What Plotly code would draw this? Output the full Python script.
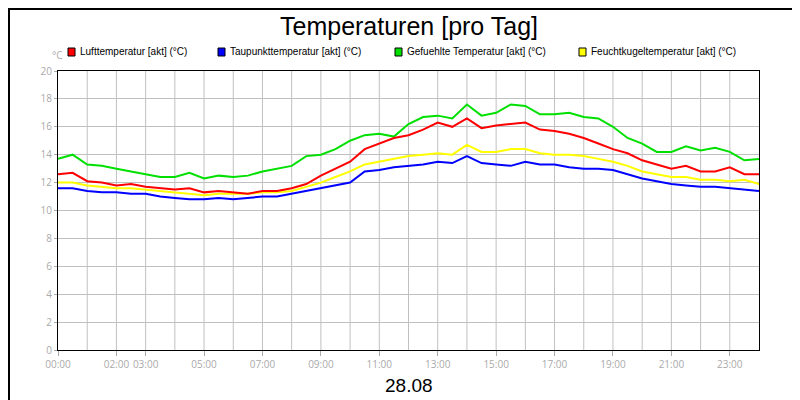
import plotly.graph_objects as go

hours = [i * 0.5 for i in range(49)]
luft = [12.6,12.7,12.1,12.0,11.8,11.9,11.7,11.6,11.5,11.6,11.3,11.4,11.3,11.2,11.4,11.4,11.6,11.9,12.5,13.0,13.5,14.4,14.8,15.2,15.4,15.8,16.3,16.0,16.6,15.9,16.1,16.2,16.3,15.8,15.7,15.5,15.2,14.8,14.4,14.1,13.6,13.3,13.0,13.2,12.8,12.8,13.1,12.6,12.6]
tau = [11.6,11.6,11.4,11.3,11.3,11.2,11.2,11.0,10.9,10.8,10.8,10.9,10.8,10.9,11.0,11.0,11.2,11.4,11.6,11.8,12.0,12.8,12.9,13.1,13.2,13.3,13.5,13.4,13.9,13.4,13.3,13.2,13.5,13.3,13.3,13.1,13.0,13.0,12.9,12.6,12.3,12.1,11.9,11.8,11.7,11.7,11.6,11.5,11.4]
gelb = [12.0,12.0,11.8,11.7,11.6,11.6,11.5,11.4,11.3,11.2,11.1,11.2,11.2,11.2,11.3,11.3,11.4,11.7,12.0,12.4,12.8,13.3,13.5,13.7,13.9,14.0,14.1,14.0,14.7,14.2,14.2,14.4,14.4,14.1,14.0,14.0,13.9,13.7,13.5,13.2,12.8,12.6,12.4,12.4,12.2,12.2,12.1,12.2,11.9]
gruen = [13.7,14.0,13.3,13.2,13.0,12.8,12.6,12.4,12.4,12.7,12.3,12.5,12.4,12.5,12.8,13.0,13.2,13.9,14.0,14.4,15.0,15.4,15.5,15.3,16.2,16.7,16.8,16.6,17.6,16.8,17.0,17.6,17.5,16.9,16.9,17.0,16.7,16.6,16.0,15.2,14.8,14.2,14.2,14.6,14.3,14.5,14.2,13.6,13.7]

series = [("Lufttemperatur [akt] (°C)", luft, "#ff0000"),
          ("Taupunkttemperatur [akt] (°C)", tau, "#0000ff"),
          ("Gefuehlte Temperatur [akt] (°C)", gruen, "#00e000"),
          ("Feuchtkugeltemperatur [akt] (°C)", gelb, "#ffff00")]
order = [2, 3, 0, 1]

tickvals = [0, 2, 3, 5, 7, 9, 11, 13, 15, 17, 19, 21, 23]
ticktext = ["%02d:00" % h for h in tickvals]

fig = go.Figure()
for i in order:
    name, ys, c = series[i]
    fig.add_trace(go.Scatter(x=hours, y=ys, mode="lines", line=dict(color=c, width=2), name=name, showlegend=False))

W, H = 800, 400
px = lambda x: (x - 50) / 701
py = lambda y: (342 - y) / 279
shapes = [dict(type="rect", xref="paper", yref="paper", x0=px(1), x1=px(798.5), y0=py(398.5), y1=py(1), line=dict(color="black", width=2))]
annotations = [
    dict(text="Temperaturen [pro Tag]", xref="paper", yref="paper", x=0.5, y=py(18), showarrow=False, font=dict(size=25, color="black", family="Liberation Sans"), yanchor="middle"),
    dict(text="28.08", xref="paper", yref="paper", x=0.5, y=py(378), showarrow=False, font=dict(size=19, color="black", family="Liberation Sans"), yanchor="middle"),
    dict(text="°C", xref="paper", yref="paper", x=px(42), y=py(47), showarrow=False, font=dict(size=10, color="#aaaaaa"), yanchor="middle"),
]
leg_x = [60, 210, 387, 571]
for (name, ys, c), lx in zip(series, leg_x):
    shapes.append(dict(type="rect", xref="paper", yref="paper", x0=px(lx), x1=px(lx + 7), y0=py(48), y1=py(40), fillcolor=c, line=dict(color="black", width=1)))
    annotations.append(dict(text=name, xref="paper", yref="paper", x=px(lx + 10), y=py(44), xanchor="left", yanchor="middle", showarrow=False, font=dict(size=10, color="black", family="Liberation Sans")))

fig.update_layout(
    width=W, height=H, margin=dict(l=50, r=49, t=63, b=58),
    paper_bgcolor="white", plot_bgcolor="white",
    shapes=shapes, annotations=annotations,
    xaxis=dict(range=[0, 24], tickvals=tickvals, ticktext=ticktext, showgrid=False,
               tickfont=dict(size=10, color="#aaaaaa"), ticks="outside", ticklen=5, tickcolor="#aaaaaa",
               showline=True, linecolor="black", mirror=True, zeroline=False),
    yaxis=dict(range=[0, 20], dtick=2, gridcolor="#c0c0c0", tickfont=dict(size=10, color="#aaaaaa"),
               showline=True, linecolor="black", mirror=True, zeroline=False, ticks="outside", ticklen=3, tickcolor="#aaaaaa"),
)
for h in range(1, 24):
    fig.add_vline(x=h, line=dict(color="#c0c0c0", width=1), layer="below")
fig.write_html("out.html")
